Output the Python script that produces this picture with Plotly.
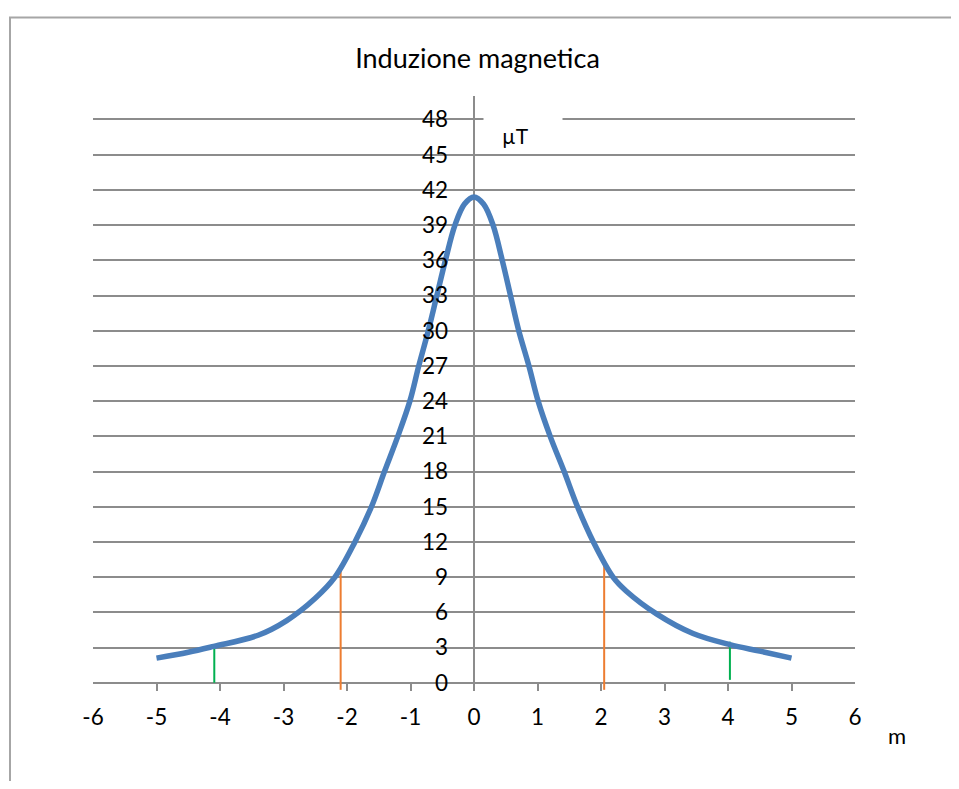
import plotly.graph_objects as go

# ---- data ----
dist_m = [-5, -4.5, -4.1, -3.4, -2.95, -2.5, -2.19, -1.875, -1.615, -1.41, -1.2, -1.01,
          -0.87, -0.72, -0.585, -0.45, -0.3, -0.15, 0,
          0.15, 0.3, 0.445, 0.575, 0.705, 0.865, 1.01, 1.2, 1.42, 1.63, 1.88, 2.19,
          2.4, 2.88, 3.45, 4.03, 4.5, 5]
induzione_uT = [2.1, 2.6, 3.1, 4.05, 5.3, 7.2, 9.0, 12.0, 15.0, 18.0, 21.0, 24.0,
                27.0, 30.0, 33.0, 36.0, 39.0, 40.8, 41.4,
                40.8, 39.0, 36.0, 33.0, 30.0, 27.0, 24.0, 21.0, 18.0, 15.0, 12.0, 9.0,
                7.8, 5.85, 4.2, 3.25, 2.7, 2.1]

orange_x = [-2.1, 2.05]
orange_bottom = [-0.6, -0.6]
orange_top = [10.0, 10.0]

green_x = [-4.09, 4.03]
green_bottom = [0.0, 0.25]
green_top = [3.23, 3.5]

x_ticks = [-6, -5, -4, -3, -2, -1, 0, 1, 2, 3, 4, 5, 6]
y_ticks = list(range(0, 49, 3))

title_text = "Induzione magnetica"
y_unit = "µT"
x_unit = "m"

FONT = "Lato"
GRID = "#8c8c8c"
TICK_SIZE = 22.5


def segments(xv, y0, y1):
    xs, ys = [], []
    for a, b, c in zip(xv, y0, y1):
        xs += [a, a, None]
        ys += [b, c, None]
    return xs, ys


fig = go.Figure()

ox, oy = segments(orange_x, orange_bottom, orange_top)
fig.add_trace(go.Scatter(x=ox, y=oy, mode="lines",
                         line=dict(color="#ED7D31", width=2), hoverinfo="skip"))
gx, gy = segments(green_x, green_bottom, green_top)
fig.add_trace(go.Scatter(x=gx, y=gy, mode="lines",
                         line=dict(color="#00B050", width=2), hoverinfo="skip"))
fig.add_trace(go.Scatter(x=dist_m, y=induzione_uT, mode="lines",
                         line=dict(color="#4A7EBB", width=5.5, shape="spline", smoothing=1.0)))

W, H = 943, 773
fig.update_layout(
    width=W, height=H,
    margin=dict(l=85, r=96, t=87.5, b=89.8),
    paper_bgcolor="white", plot_bgcolor="white",
    showlegend=False,
    font=dict(family=FONT, size=TICK_SIZE, color="black"),
    title=dict(text=title_text, x=0.5046, xanchor="center", xref="paper",
               y=1 - 51 / H, yanchor="middle", yref="container",
               font=dict(family=FONT, size=27, color="black")),
    xaxis=dict(range=[-6, 6], tickvals=x_ticks, ticktext=[str(v) for v in x_ticks],
               showgrid=False, showline=False,
               zeroline=True, zerolinecolor=GRID, zerolinewidth=1.5,
               ticks="inside", ticklen=8, tickwidth=1.5, tickcolor=GRID,
               ticklabelstandoff=10,
               tickfont=dict(family=FONT, size=TICK_SIZE, color="black")),
    yaxis=dict(range=[-0.7, 50], tickvals=y_ticks, ticktext=[str(v) for v in y_ticks],
               showgrid=True, gridcolor=GRID, gridwidth=1.5,
               zeroline=True, zerolinecolor=GRID, zerolinewidth=1.5,
               showline=False, ticks="", anchor="free", position=0.5,
               ticklabelstandoff=26,
               tickfont=dict(family=FONT, size=TICK_SIZE, color="black")),
)

# white gap in the top gridline behind the unit label
fig.add_annotation(x=0.77, y=47.3, xref="x", yref="y", text=" ", showarrow=False,
                   width=78, height=46, bgcolor="white", borderpad=0)
fig.add_annotation(x=0.65, y=46.6, xref="x", yref="y", text=y_unit, showarrow=False,
                   font=dict(family=FONT, size=21, color="black"))
# x unit label
fig.add_annotation(x=1.0, y=0, xref="paper", yref="paper", text=x_unit, showarrow=False,
                   xanchor="center", yanchor="middle", xshift=42, yshift=-44,
                   font=dict(family=FONT, size=22, color="black"))

# chart-area border
fig.add_shape(type="rect", xref="paper", yref="paper",
              x0=(10 - 93) / 762, x1=(955 - 93) / 762,
              y0=-0.5, y1=(691.2 - 17) / 595.7,
              line=dict(color="#a6a6a6", width=2), fillcolor="rgba(0,0,0,0)", layer="below")

fig.write_html("out.html")
